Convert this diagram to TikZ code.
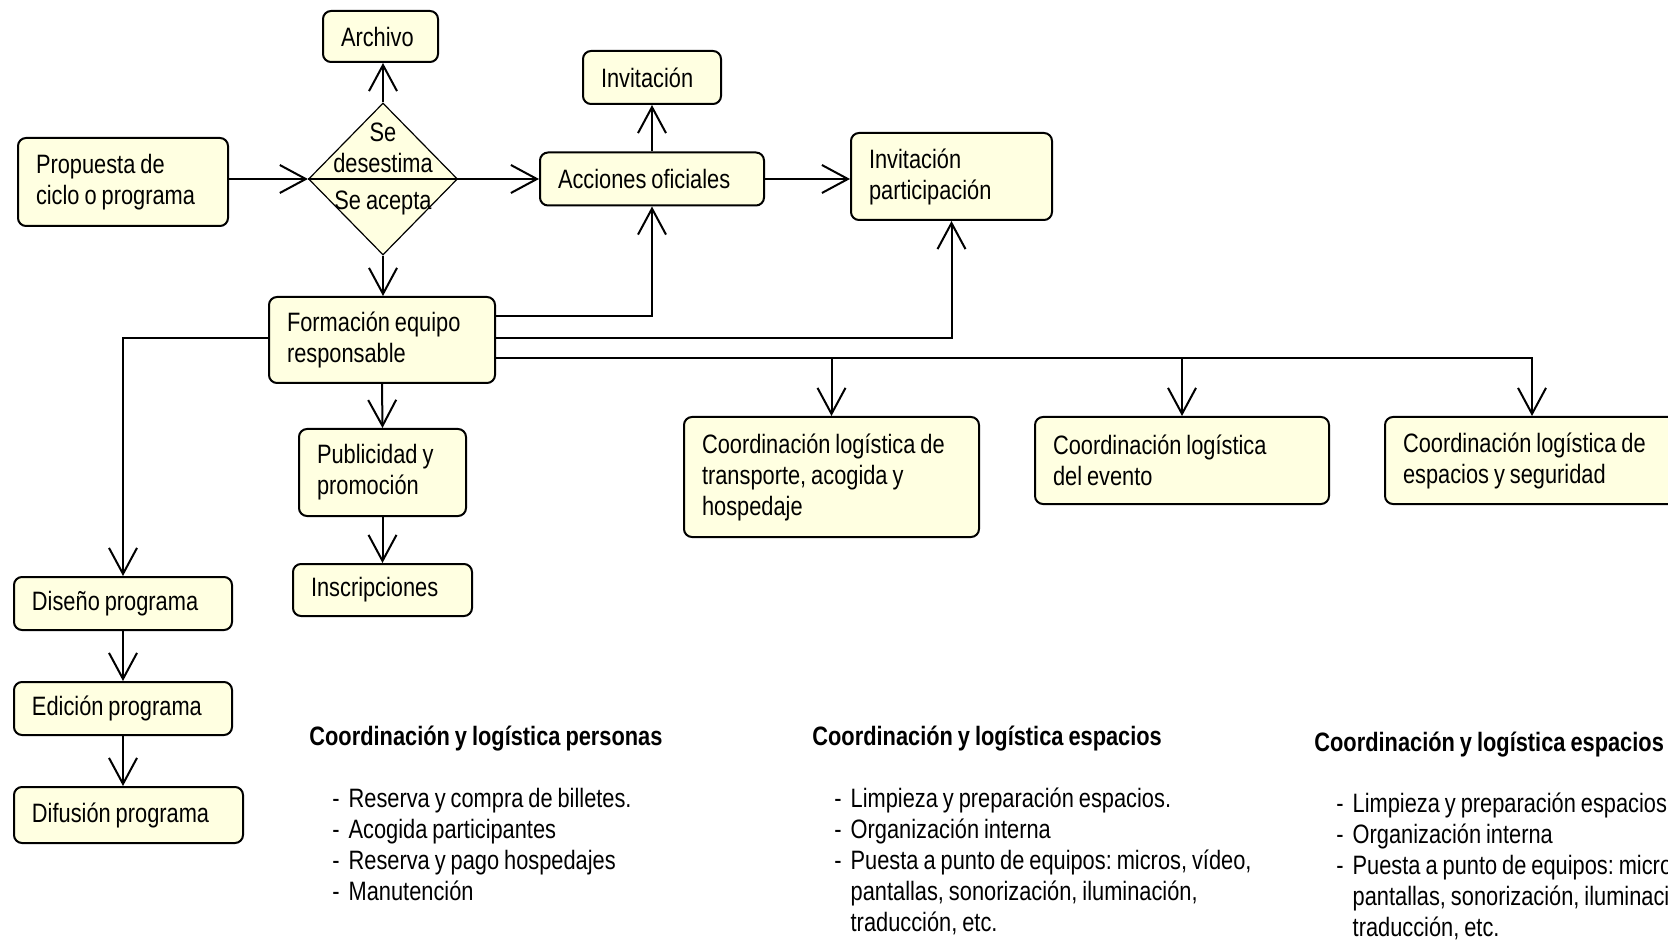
\documentclass[tikz,border=0pt]{standalone}
\usepackage{fontspec}
\setmainfont{Liberation Sans}[FakeStretch=0.82, WordSpace=0.82]
\usepackage{tikz}
\usetikzlibrary{arrows.meta}
\usetikzlibrary{shapes.geometric}
\usetikzlibrary{calc}
\frenchspacing
\definecolor{boxfill}{RGB}{255,255,225}
\tikzset{>={Straight Barb[length=13pt, width=14pt]}}
\tikzset{
    box/.style={draw, line width=1pt, rounded corners=4pt, fill=boxfill, align=flush left, inner xsep=9pt, inner ysep=0pt},
    flow/.style={->, line width=1pt},
    head/.style={anchor=west, inner sep=0pt, font=\flowfont\bfseries},
    items/.style={anchor=north west, inner sep=0pt},
}
\newcommand{\flowfont}{\fontsize{13.3pt}{15.5pt}\selectfont}

\begin{document}
\begin{tikzpicture}[x=0.5pt, y=-0.5pt, font=\flowfont] % flujo del programa
	\useasboundingbox (0,0) rectangle (1668,940);
	% cajas
	\node[box, text width=39.5pt, minimum height=25.5pt] (arch) at (380.5,36.5) {Archivo};
	\node[box, text width=51pt, minimum height=26.5pt] (inv) at (652,77.5) {Invitación};
	\node[box, text width=87pt, minimum height=44pt] (prop) at (123,182) {Propuesta de\\ciclo o programa};
	\node[diamond, draw, line width=0.6pt, fill=boxfill, minimum width=74.5pt, minimum height=76pt, inner sep=0pt] (dia) at (383,179) {};
	\node[align=center] (dtop) at (383,147.5) {Se\\desestima};
	\node (dbot) at (383,203) {Se acepta};
	\node[box, text width=94pt, minimum height=26.5pt] (acc) at (652,179) {Acciones oficiales};
	\node[box, text width=82.5pt, minimum height=43.5pt] (invp) at (951.5,176.5) {Invitación\\participación};
	\node[box, text width=95pt, minimum height=43pt] (form) at (382,340) {Formación equipo\\responsable};
	\node[box, text width=65.5pt, minimum height=43.5pt] (pub) at (382.5,472.5) {Publicidad y\\promoción};
	\node[box, text width=71.5pt, minimum height=26pt] (insc) at (382.5,590) {Inscripciones};
	\node[box, text width=129.5pt, minimum height=60pt] (ctrans) at (831.5,477) {Coordinación logística de\\transporte, acogida y\\hospedaje};
	\node[box, text width=129pt, minimum height=43.5pt] (cevent) at (1182,460.5) {Coordinación logística\\del evento};
	\node[box, text width=129pt, minimum height=43.5pt] (cesp) at (1532,460.5) {Coordinación logística de\\espacios y seguridad};
	\node[box, text width=91pt, minimum height=26.5pt] (dis) at (123,603.5) {Diseño programa};
	\node[box, text width=91pt, minimum height=26.5pt] (edi) at (123,708.5) {Edición programa};
	\node[box, text width=96.5pt, minimum height=28pt] (dif) at (128.5,815) {Difusión programa};
	% salidas de formacion
	\coordinate (f1) at ([yshift=12pt]form.east);
	\coordinate (f2) at ([yshift=1pt]form.east);
	\coordinate (f3) at ([yshift=-9pt]form.east);
	\coordinate (fL) at ([yshift=1pt]form.west);
	% conectores
	\draw[flow] (prop.east |- dia.west) -- (dia.west);
	\draw[line width=1pt] (dia.west) -- (dia.east);
	\draw[flow] (dia.east) -- (acc.west);
	\draw[flow] (dia.north) -- (dia.north |- arch.south);
	\draw[flow] (dia.south) -- (dia.south |- form.north);
	\draw[flow] (acc.north) -- (inv.south);
	\draw[flow] (acc.east) -- (acc.east -| invp.west);
	\draw[flow] (f1) -| (acc.south);
	\draw[flow] (f2) -| (invp.south);
	\draw[flow] (f3) -| (cesp.north);
	\draw[flow] (f3 -| ctrans.north) -- (ctrans.north);
	\draw[flow] (f3 -| cevent.north) -- (cevent.north);
	\draw[flow] (fL) -| (dis.north);
	\draw[flow] (form.south) -- (pub.north);
	\draw[flow] (pub.south) -- (insc.north);
	\draw[flow] (dis.south) -- (edi.north);
	\draw[flow] (edi.south) -- (edi.south |- dif.north);
	% listas
	\node[head] (h1) at (309,739) {Coordinación y logística personas};
	\node[items] (l1) at (332,785) {\begin{tabular}{@{}l@{\hspace{4.5pt}}l@{}}
		- & Reserva y compra de billetes.\\
		- & Acogida participantes\\
		- & Reserva y pago hospedajes\\
		- & Manutención
	\end{tabular}};
	\node[head] (h2) at (812,739) {Coordinación y logística espacios};
	\node[items] (l2) at (834,785) {\begin{tabular}{@{}l@{\hspace{4.5pt}}l@{}}
		- & Limpieza y preparación espacios.\\
		- & Organización interna\\
		- & Puesta a punto de equipos: micros, vídeo,\\
		  & pantallas, sonorización, iluminación,\\
		  & traducción, etc.
	\end{tabular}};
	\node[head] (h3) at (1314,745) {Coordinación y logística espacios};
	\node[items] (l3) at (1336,790) {\begin{tabular}{@{}l@{\hspace{4.5pt}}l@{}}
		- & Limpieza y preparación espacios.\\
		- & Organización interna\\
		- & Puesta a punto de equipos: micros, vídeo,\\
		  & pantallas, sonorización, iluminación,\\
		  & traducción, etc.
	\end{tabular}};
\end{tikzpicture}
\end{document}
